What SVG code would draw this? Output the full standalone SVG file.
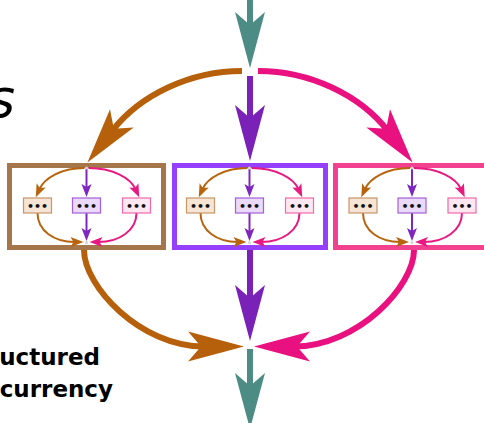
<svg xmlns="http://www.w3.org/2000/svg" width="484" height="423" viewBox="0 0 484 423">
  <style>
    .shaft { fill: none; stroke-width: 6; stroke-linecap: butt; }
    .thin { fill: none; stroke-width: 2; }
    .frame { fill: #ffffff; stroke-width: 5; }
    .dots { font-family: "DejaVu Sans", sans-serif; font-size: 11px; font-weight: bold; text-anchor: middle; fill: #111111; }
    .caption { font-family: "DejaVu Sans", "Verdana", sans-serif; font-weight: bold; font-size: 23px; fill: #000000; text-anchor: end; }
    .teal { stroke: #4d8c84; } .purple { stroke: #7a22b8; } .orange { stroke: #b7600b; } .pink { stroke: #e9117f; }
    .s-orange { stroke: #b8640f; } .s-purple { stroke: #7e26c0; } .s-pink { stroke: #e81a82; }
  </style>
  <defs>
    <!-- large notched arrowheads: tip sits 40px beyond the path end -->
    <marker id="hTeal" markerUnits="userSpaceOnUse" orient="auto" viewBox="-20 -20 64 40" markerWidth="64" markerHeight="40" refX="0" refY="0"><path d="M40,0 L-16,-15 L-3,0 L-16,15 Z" fill="#4d8c84"/></marker>
    <marker id="hPurple" markerUnits="userSpaceOnUse" orient="auto" viewBox="-20 -20 64 40" markerWidth="64" markerHeight="40" refX="0" refY="0"><path d="M40,0 L-16,-15 L-3,0 L-16,15 Z" fill="#7a22b8"/></marker>
    <marker id="hOrange" markerUnits="userSpaceOnUse" orient="auto" viewBox="-20 -20 64 40" markerWidth="64" markerHeight="40" refX="0" refY="0"><path d="M40,0 L-16,-15 L-3,0 L-16,15 Z" fill="#b7600b"/></marker>
    <marker id="hPink" markerUnits="userSpaceOnUse" orient="auto" viewBox="-20 -20 64 40" markerWidth="64" markerHeight="40" refX="0" refY="0"><path d="M40,0 L-16,-15 L-3,0 L-16,15 Z" fill="#e9117f"/></marker>
    <!-- small arrowheads for the inner flows -->
    <marker id="sOrange" markerUnits="userSpaceOnUse" orient="auto" viewBox="-6 -6 16 12" markerWidth="16" markerHeight="12" refX="0" refY="0"><path d="M9,0 L-4,-5 L-1,0 L-4,5 Z" fill="#b8640f"/></marker>
    <marker id="sPurple" markerUnits="userSpaceOnUse" orient="auto" viewBox="-6 -6 16 12" markerWidth="16" markerHeight="12" refX="0" refY="0"><path d="M9,0 L-4,-5 L-1,0 L-4,5 Z" fill="#7e26c0"/></marker>
    <marker id="sPink" markerUnits="userSpaceOnUse" orient="auto" viewBox="-6 -6 16 12" markerWidth="16" markerHeight="12" refX="0" refY="0"><path d="M9,0 L-4,-5 L-1,0 L-4,5 Z" fill="#e81a82"/></marker>

    <!-- inner fork/join flow, drawn around x = 0 -->
    <g id="innerFlow">
      <g class="connectors">
        <path class="thin s-orange" d="M-2,168 C-25,168 -42,178 -47,189" marker-end="url(#sOrange)"/>
        <path class="thin s-purple" d="M0,169 L0,188" marker-end="url(#sPurple)"/>
        <path class="thin s-pink" d="M2,168 C26,168 44,178 49,189" marker-end="url(#sPink)"/>
        <path class="thin s-orange" d="M-49,213 C-49,231 -32,242 -12,242" marker-end="url(#sOrange)"/>
        <path class="thin s-purple" d="M0,213 L0,232" marker-end="url(#sPurple)"/>
        <path class="thin s-pink" d="M50,213 C50,231 32,242 12,242" marker-end="url(#sPink)"/>
      </g>
      <circle cx="0" cy="168" r="1.5" fill="#d4d4d4"/>
      <circle cx="0" cy="242.5" r="1.5" fill="#d4d4d4"/>
      <g class="task">
        <rect x="-63" y="198" width="28" height="15" fill="#f6e4d4" stroke="#c99668" stroke-width="1.2"/>
        <text class="dots" x="-49" y="209.5">•••</text>
      </g>
      <g class="task">
        <rect x="-14" y="198" width="28" height="15" fill="#ead9f7" stroke="#a45fd8" stroke-width="1.2"/>
        <text class="dots" x="0" y="209.5">•••</text>
      </g>
      <g class="task">
        <rect x="36" y="198" width="28" height="15" fill="#fde8f1" stroke="#ee6aa8" stroke-width="1.2"/>
        <text class="dots" x="50" y="209.5">•••</text>
      </g>
    </g>
  </defs>

  <rect width="484" height="423" fill="#ffffff"/>

  <!-- partial title and caption at the left edge -->
  <text x="15" y="117" font-family="DejaVu Sans, sans-serif" font-style="oblique" font-size="53" text-anchor="end" fill="#000000">s</text>
  <text class="caption" x="100" y="365">uctured</text>
  <text class="caption" x="113" y="397">currency</text>

  <!-- nursery blocks -->
  <g id="nursery-left">
    <rect class="frame" x="9.5" y="165.5" width="154" height="82" stroke="#a5764a"/>
    <use href="#innerFlow" transform="translate(86.5,0)"/>
  </g>
  <g id="nursery-middle">
    <rect class="frame" x="174.5" y="165.5" width="151" height="82" stroke="#9540ff"/>
    <use href="#innerFlow" transform="translate(249.5,0)"/>
  </g>
  <g id="nursery-right">
    <rect class="frame" x="335.5" y="165.5" width="153" height="82" stroke="#f2418e"/>
    <use href="#innerFlow" transform="translate(412,0)"/>
  </g>

  <!-- main fork / join flow -->
  <g id="connectors">
    <path class="shaft teal" d="M250,0 L250,28" marker-end="url(#hTeal)"/>
    <path class="shaft orange" d="M242,71 C190,71 140,95 112,131" marker-end="url(#hOrange)"/>
    <path class="shaft purple" d="M250,76 L250,121" marker-end="url(#hPurple)"/>
    <path class="shaft pink" d="M258,71 C310,71 360,95 388,131" marker-end="url(#hPink)"/>
    <path class="shaft orange" d="M84,250 C84,286 140,346.5 204,346.5" marker-end="url(#hOrange)"/>
    <path class="shaft purple" d="M250,250 L250,301" marker-end="url(#hPurple)"/>
    <path class="shaft pink" d="M414,250 C414,286 358,346.5 294,346.5" marker-end="url(#hPink)"/>
    <path class="shaft teal" d="M250,349 L250,389" marker-end="url(#hTeal)"/>
  </g>
</svg>
